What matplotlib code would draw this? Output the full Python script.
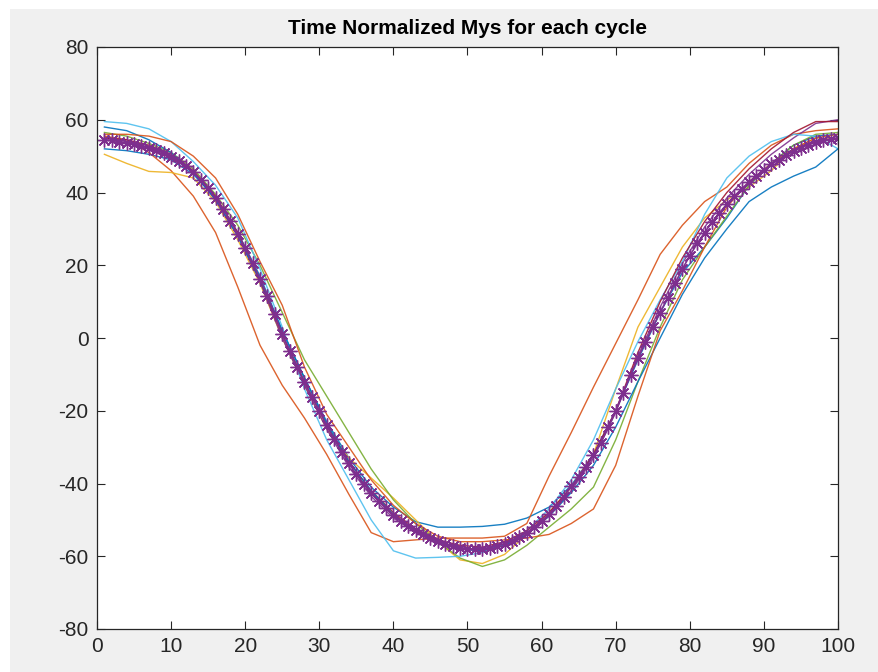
import numpy as np
import matplotlib
matplotlib.use("Agg")
import matplotlib.pyplot as plt
from matplotlib.patches import Rectangle

plt.rcParams["font.family"] = ["Liberation Sans", "DejaVu Sans"]
plt.rcParams["axes.unicode_minus"] = False

# sample positions (percent of cycle) for the individual cycles
x_cycle = [1, 4, 7, 10, 13, 16, 19, 22, 25, 28, 31, 34, 37, 40, 43, 46, 49,
           52, 55, 58, 61, 64, 67, 70, 73, 76, 79, 82, 85, 88, 91, 94, 97, 100]

# individual cycles (MATLAB colour order)
cycle_blue = [52, 51.5, 50.5, 49, 45, 38.5, 29, 17, 2, -11, -23, -33, -41, -46.5, -50.5,
              -52, -52, -51.8, -51.2, -49.5, -46.5, -40.5, -32, -20, -6, 7, 18, 25,
              33, 42, 48, 53, 55.5, 56]
cycle_orange = [55.5, 54.5, 51, 46, 39, 29, 14, -2, -13, -22, -32, -43, -53.5, -56, -55.5,
                -55, -55, -55, -54.5, -51, -38, -26, -13.5, -1.5, 10.5, 23, 31, 37.5,
                41.5, 48, 53, 56, 57, 57.5]
cycle_yellow = [50.5, 48, 45.8, 45.5, 44, 37.5, 27, 15, 0, -13, -25, -33, -38.5, -44,
                -50, -56, -61, -62, -59.5, -54, -48, -41, -32, -14, 3, 14, 25, 33,
                38, 41.5, 46, 52, 55, 54.5]
cycle_purple = [55, 54, 52.5, 50, 45.5, 38, 28, 15.5, 0, -13, -25, -35.5, -43.5, -49.5,
                -53.5, -56.5, -58, -58.5, -57, -54, -49, -42, -33, -20.5, -5, 8.5, 20.5,
                30.5, 38.5, 45, 50.5, 55, 59, 60]
cycle_green = [56.5, 55.5, 53.5, 51, 46.5, 39.5, 31, 20, 7, -6, -16, -26, -36, -44.5,
               -51, -56, -60.5, -62.8, -61, -57, -52, -47, -41, -28, -12, 3, 16, 25,
               33.5, 42, 48, 53, 56, 56.5]
cycle_lightblue = [59.5, 59, 57.5, 54, 48.5, 42, 33, 19, 3, -14, -28, -39, -50, -58.5,
                   -60.5, -60.3, -60, -59, -57, -53, -47, -39, -28, -14, -1, 10.5, 21,
                   34, 44, 50, 54, 56, 55.5, 52]
cycle_darkred = [55, 54.5, 53, 50.5, 46, 39, 29, 16, 1, -12, -24, -34, -42, -48, -52.5,
                 -55.5, -57, -57.5, -56, -53, -48, -41, -32, -20, -4, 10, 22, 32, 40,
                 46.5, 52, 56.5, 59.5, 59.5]
cycle_blue2 = [58, 57, 54.5, 51, 45.5, 38, 28, 16, 2, -11, -23.5, -34, -42, -48.5, -53,
               -56, -58, -58.5, -57, -54, -49, -42.5, -35, -24.5, -12, 0, 12, 22, 30,
               37.5, 41.5, 44.5, 47, 52]
cycle_orange2 = [56, 56, 55.5, 54, 50, 44, 34, 21, 9, -8, -21, -30, -39, -46, -51,
                 -54.5, -56, -56, -55.5, -55, -54, -51, -47, -35, -16, 2, 13, 25, 36,
                 43, 48, 52, 55, 56]

cycles = [cycle_blue, cycle_orange, cycle_yellow, cycle_purple, cycle_green,
          cycle_lightblue, cycle_darkred, cycle_blue2, cycle_orange2]

# mean curve, one value per percent of cycle
x_mean = list(range(1, 101))
y_mean = [54.5, 54.3, 54.0, 53.6, 53.2, 52.7, 52.2, 51.6, 50.8, 49.8,
          48.6, 47.2, 45.5, 43.5, 41.2, 38.5, 35.5, 32.2, 28.6, 24.7,
          20.6, 16.2, 11.6, 6.5, 1.0, -3.5, -8.0, -12.2, -16.2, -20.0,
          -24.0, -27.8, -31.3, -34.5, -37.5, -40.2, -42.6, -44.8, -46.8, -48.6,
          -50.2, -51.6, -52.9, -54.0, -55.0, -55.9, -56.6, -57.2, -57.6, -57.9,
          -58.0, -57.9, -57.6, -57.1, -56.5, -55.7, -54.7, -53.5, -52.0, -50.3,
          -48.4, -46.3, -43.6, -40.8, -38.2, -35.4, -32.3, -28.8, -24.6, -20.0,
          -15.0, -10.2, -5.6, -1.2, 3.0, 7.0, 11.0, 15.0, 19.0, 22.6,
          26.0, 29.0, 31.8, 34.4, 36.8, 39.0, 41.0, 42.9, 44.6, 46.2,
          47.7, 49.0, 50.2, 51.3, 52.3, 53.1, 53.8, 54.3, 54.7, 55.0]

matlab_colors = ["#0072BD", "#D95319", "#EDB120", "#7E2F8E", "#77AC30",
                 "#4DBEEE", "#A2142F"]

fig = plt.figure(figsize=(8.79, 6.72), dpi=100, facecolor="white")
fig.patches.append(Rectangle((10 / 879, 0), 1, 1 - 9 / 672, transform=fig.transFigure,
                             facecolor="#f0f0f0", edgecolor="none", zorder=-10))
ax = fig.add_axes([97 / 879, 1 - 629 / 672, 741 / 879, 582 / 672])
ax.set_facecolor("white")

for i, yc in enumerate(cycles):
    ax.plot(x_cycle, yc, color=matlab_colors[i % 7], linewidth=1.0, alpha=0.9)

# mean with MATLAB-style asterisk markers
ax.plot(x_mean, y_mean, color="#7E2F8E", linewidth=1.2, marker=(8, 2, 0),
        markersize=10, markeredgewidth=1.0)

ax.set_xlim(0, 100)
ax.set_ylim(-80, 80)
ax.set_xticks(np.arange(0, 101, 10))
ax.set_yticks(np.arange(-80, 81, 20))
ax.tick_params(direction="in", length=6, width=0.8, colors="#262626",
               labelsize=15, top=True, right=True, pad=6)
for s in ax.spines.values():
    s.set_color("#262626")
    s.set_linewidth(0.9)
ax.set_title("Time Normalized Mys for each cycle", fontsize=15, fontweight="bold",
             color="black", pad=9)

fig.savefig("out.png", dpi=100, facecolor=fig.get_facecolor())
